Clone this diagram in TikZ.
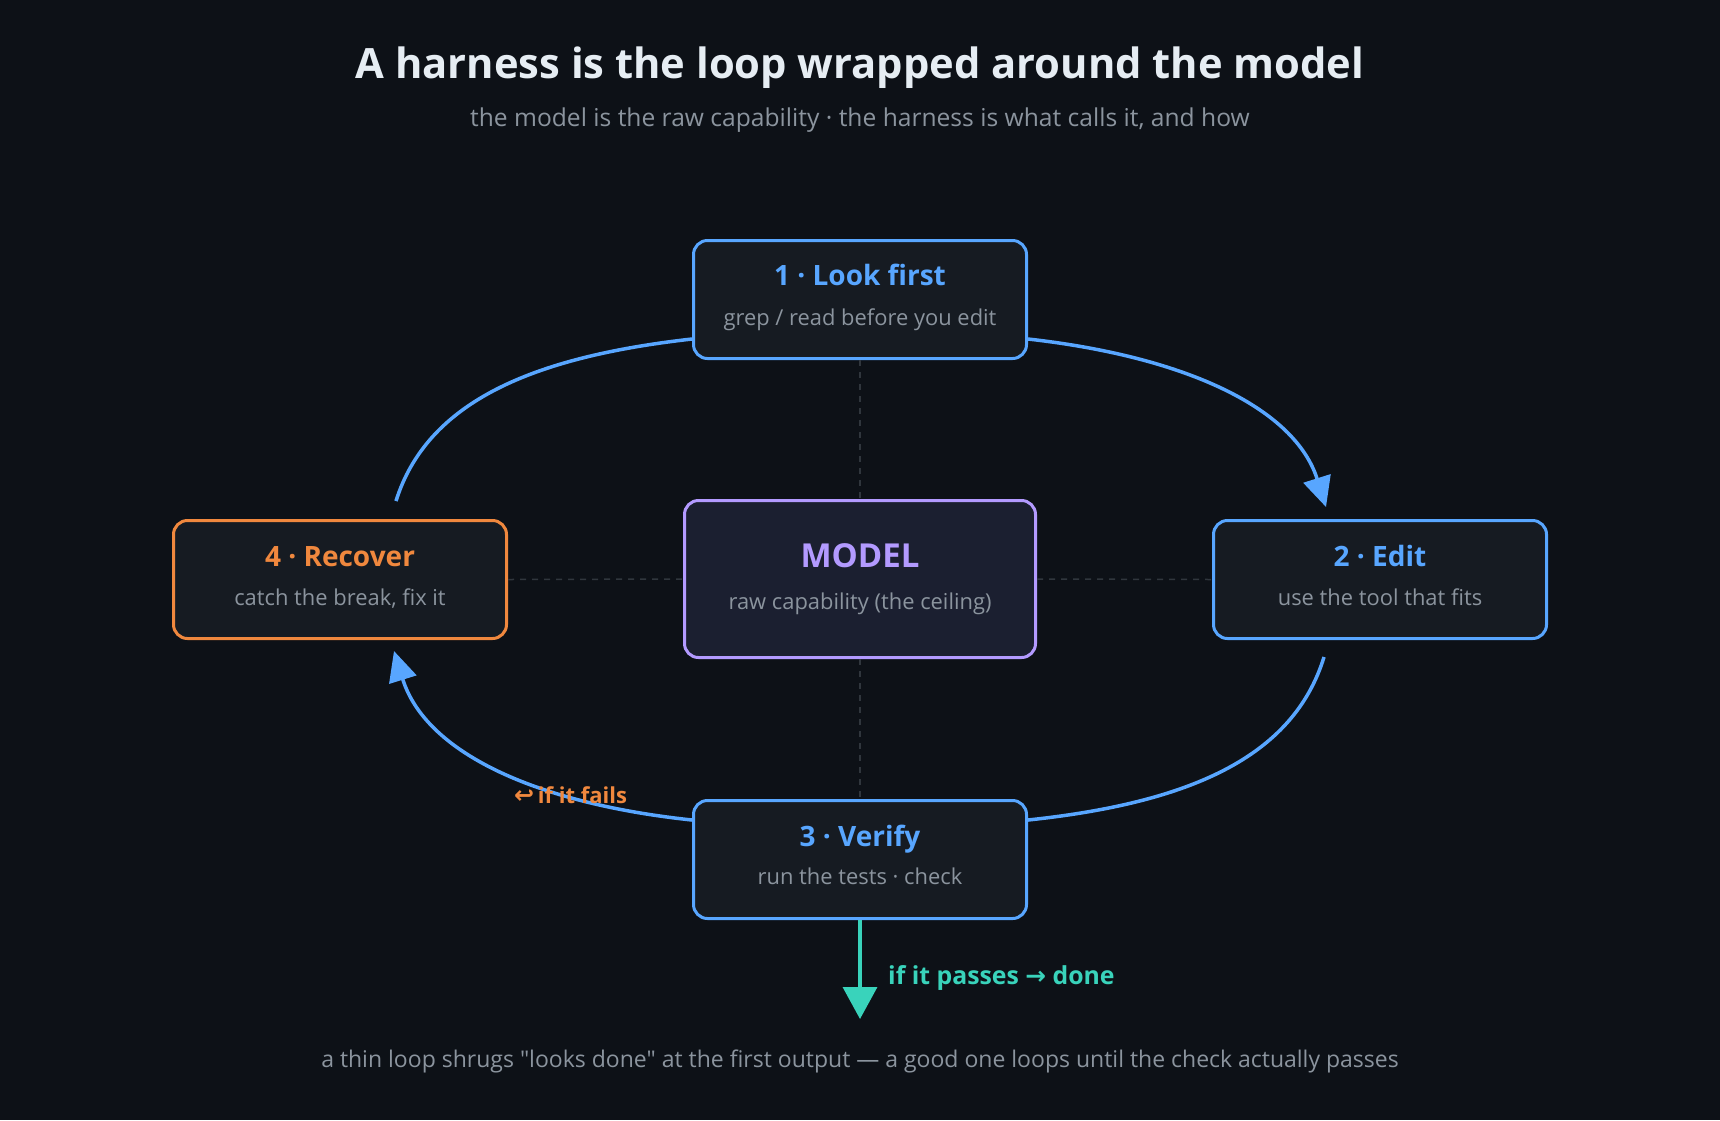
\documentclass[tikz,border=0pt]{standalone}
\usepackage{fontspec}
\setmainfont{Open Sans}[Ligatures=TeXOff]
\newfontfamily\symfont{DejaVu Sans}
\usetikzlibrary{arrows.meta,calc}
\definecolor{bg}{HTML}{0D1117}
\definecolor{boxfill}{HTML}{161B22}
\definecolor{modelfill}{HTML}{1B1F30}
\definecolor{ablue}{HTML}{58A6FF}
\definecolor{aorange}{HTML}{F0883E}
\definecolor{apurple}{HTML}{B39AFF}
\definecolor{ateal}{HTML}{39D3BB}
\definecolor{titlec}{HTML}{E6EDF3}
\definecolor{grayc}{HTML}{8B949E}
\definecolor{dashc}{HTML}{30363D}
\tikzset{
  stepbox/.style={draw=ablue, line width=3pt, fill=boxfill, rounded corners=14pt,
    minimum width=333pt, minimum height=118pt, inner sep=0pt},
  ttl/.style={inner sep=0pt, text height=0.72em, text depth=0pt, anchor=center,
    font=\fontsize{28}{32}\selectfont\bfseries},
  sub/.style={inner sep=0pt, text height=0.6em, text depth=0pt, anchor=center,
    text=grayc, font=\fontsize{21.9}{26}\selectfont},
  loopline/.style={draw=ablue, line width=3.5pt},
  guide/.style={draw=dashc, line width=1.5pt, dash pattern=on 6pt off 6pt},
  tip/.style={-{Triangle[length=30pt,width=28pt]}},
}
\begin{document}
\begin{tikzpicture}[x=1pt,y=-1pt]
\fill[bg] (0,0) rectangle (1720,1120);
\useasboundingbox (0,0) rectangle (1720,1120);

% title
\node[inner sep=0pt, text=titlec, font=\fontsize{41.7}{48}\selectfont\bfseries, text height=0.72em, text depth=0pt] (title) at (860,75) {A harness is the loop wrapped around the model};
\node[sub, font=\fontsize{24.6}{29}\selectfont] (subtitle) at (860,123.5) {the model is the raw capability · the harness is what calls it, and how};

% boxes
\node[stepbox] (b1) at (860,299.5) {};
\node[stepbox] (b2) at (1380,579.5) {};
\node[stepbox] (b3) at (860,859.5) {};
\node[stepbox, draw=aorange] (b4) at (340,579.5) {};
\node[stepbox, draw=apurple, fill=modelfill, minimum width=351pt, minimum height=157pt] (m) at (860,579) {};

% guide lines
\draw[guide] (b1.south) -- (m.north);
\draw[guide] (m.south) -- (b3.north);
\draw[guide] (b4.east) -- (m.west);
\draw[guide] (m.east) -- (b2.west);

% box texts
\node[ttl, text=ablue] (b1t) at (860,281.5) {1 · Look first};
\node[sub] (b1s) at (860,322.5) {grep / read before you edit};
\node[ttl, text=ablue] (b2t) at (1380,562.5) {2 · Edit};
\node[sub] (b2s) at (1380,602.5) {use the tool that fits};
\node[ttl, text=ablue] (b3t) at (860,842.5) {3 · Verify};
\node[sub] (b3s) at (860,881.5) {run the tests · check};
\node[ttl, text=aorange] (b4t) at (340,562.5) {4 · Recover};
\node[sub] (b4s) at (340,602.5) {catch the break, fix it};
\node[ttl, text=apurple, font=\fontsize{33}{38}\selectfont\bfseries] (mt) at (860,563.5) {MODEL};
\node[sub] (ms) at (860,606.5) {raw capability (the ceiling)};

% loop connectors
\coordinate (b1l) at ($(b1.south west)+(0,-21)$);
\coordinate (b1r) at ($(b1.south east)+(0,-21)$);
\coordinate (b3l) at ($(b3.north west)+(0,21)$);
\coordinate (b3r) at ($(b3.north east)+(0,21)$);
\coordinate (b4top) at ($(b4.north)+(56,-18)$);
\coordinate (b2tip) at ($(b2.north)+(-54,-12)$);
\coordinate (b2bot) at ($(b2.south)+(-56,17)$);
\coordinate (b4tip) at ($(b4.south)+(54,11)$);

\draw[loopline] (b1l) .. controls (532,357) and (427,402) .. (b4top);
\draw[loopline, tip] (b1r) .. controls (1188,357) and (1295,409) .. (b2tip);
\draw[loopline] (b2bot) .. controls (1293,758) and (1188,803) .. (b3r);
\draw[loopline, tip] (b3l) .. controls (532,803) and (425,751) .. (b4tip);

% exit
\coordinate (exitend) at ($(b3.south)+(0,99)$);
\draw[draw=ateal, line width=3.5pt, -{Triangle[length=32pt,width=34pt]}] (b3.south) -- (exitend);
\node[anchor=west, inner sep=0pt, text=ateal, font=\fontsize{24.8}{29}\selectfont\bfseries, text height=0.72em, text depth=0pt] (pass) at (888,980.5) {if it passes {\symfont →} done};

\node[anchor=west, inner sep=0pt, text=aorange, font=\fontsize{22}{26}\selectfont\bfseries, text height=0.72em, text depth=0pt] (fail) at (514,800) {{\symfont\bfseries\fontsize{24}{28}\selectfont ↩}\,if it fails};

% footer
\node[sub, font=\fontsize{23}{27}\selectfont] (footer) at (860,1064.5) {a thin loop shrugs "looks done" at the first output — a good one loops until the check actually passes};
\end{tikzpicture}
\end{document}
